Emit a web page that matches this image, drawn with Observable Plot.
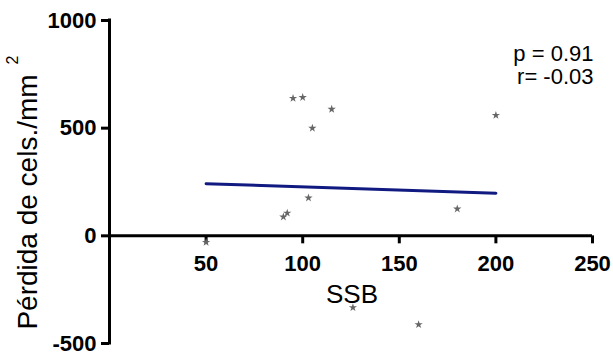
<!DOCTYPE html>
<html>
<head>
<meta charset="utf-8">
<script src="https://cdn.jsdelivr.net/npm/d3@7"></script>
<script src="https://cdn.jsdelivr.net/npm/@observablehq/plot@0.6"></script>
<style>
  html, body { margin: 0; padding: 0; background: #fff; }
  #chart { width: 613px; height: 354px; }
</style>
</head>
<body>
<div id="chart"></div>
<script>
// Data
const ssb     = [50, 90, 92, 95, 100, 103, 105, 115, 126, 160, 180, 200];
const perdida = [-30, 88, 106, 639, 643, 176, 500, 588, -333, -412, 125, 560];

// Regression line endpoints as drawn
const fitX = [50, 200];
const fitY = [242, 198];

const xDomain = [0, 250];
const yDomain = [-500, 1000];
const xTicks = [50, 100, 150, 200, 250];
const yTicks = [-500, 0, 500, 1000];

const statsText = ["p = 0.91", "r= -0.03"];
const xTitle = "SSB";
const yTitle = "Pérdida de cels./mm";
const yTitleSup = "2";

const points = ssb.map((x, i) => ({x, y: perdida[i]}));
const fit = fitX.map((x, i) => ({x, y: fitY[i]}));

const font = "'Liberation Sans', Arial, Helvetica, sans-serif";

const chart = Plot.plot({
  width: 613,
  height: 354,
  marginLeft: 109,
  marginRight: 21,
  marginTop: 20,
  marginBottom: 11,
  style: {fontFamily: font, color: "#000", background: "#fff", overflow: "visible"},
  x: {domain: xDomain, axis: null},
  y: {domain: yDomain, axis: null},
  marks: [
    // y axis
    Plot.ruleX([xDomain[0]], {stroke: "#000", strokeWidth: 3, strokeLinecap: "square"}),
    Plot.axisY(yTicks, {
      anchor: "left", tickSize: 8, tickPadding: 5, strokeWidth: 3,
      tickFormat: d => String(d), fontSize: 22, fontWeight: "bold",
      fill: "#000", stroke: "#000", label: null
    }),
    // x axis at y = 0
    Plot.ruleY([0], {x1: xDomain[0], x2: xDomain[1], stroke: "#000", strokeWidth: 3}),
    Plot.ruleX(xTicks, {x: d => d, y1: 0, y2: 0, insetBottom: -8, stroke: "#000", strokeWidth: 3}),
    Plot.text(xTicks, {x: d => d, y: 0, dy: 28, text: d => String(d), fontSize: 22, fontWeight: "bold", fill: "#000"}),
    // regression line
    Plot.line(fit, {x: "x", y: "y", stroke: "#101a80", strokeWidth: 3}),
    // points
    Plot.dot(points, {x: "x", y: "y", symbol: "star", r: 2.6, fill: "#666", stroke: "none"}),
    // stats
    Plot.text([statsText.join("\n")], {
      frameAnchor: "top-right", textAnchor: "end", lineAnchor: "top",
      dx: 1, dy: 24, fontSize: 22, lineHeight: 1.05, fill: "#000"
    }),
    // axis titles
    Plot.text([xTitle], {frameAnchor: "bottom", textAnchor: "middle", dx: 1, dy: -41, fontSize: 26, fill: "#000"}),
    Plot.text([yTitle], {frameAnchor: "left", textAnchor: "middle", lineAnchor: "middle", rotate: -90, dx: -81, dy: 20, fontSize: 28, fill: "#000"}),
    Plot.text([yTitleSup], {frameAnchor: "left", textAnchor: "middle", lineAnchor: "middle", rotate: -90, dx: -97, dy: -122, fontSize: 16, fill: "#000"})
  ]
});

document.getElementById("chart").appendChild(chart);
</script>
</body>
</html>
